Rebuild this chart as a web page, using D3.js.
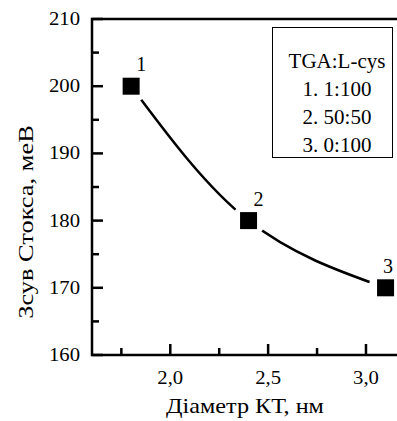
<!DOCTYPE html>
<html>
<head>
<meta charset="utf-8">
<script src="https://cdn.jsdelivr.net/npm/d3@7"></script>
<style>
  body { margin: 0; background: #fff; }
</style>
</head>
<body>
<div id="chart"></div>
<script>
// data
const diameters = [1.8, 2.4, 3.1];          // Діаметр КТ, нм
const stokesShift = [200, 180, 170];       // Зсув Стокса, меВ
const pointLabels = ["1", "2", "3"];
const legendLines = ["TGA:L-cys", "1. 1:100", "2. 50:50", "3. 0:100"];
const xTicks = [2.0, 2.5, 3.0];
const xMinorTicks = [1.75, 2.25, 2.75];
const yTicks = [160, 170, 180, 190, 200, 210];
const yMinorTicks = [165, 175, 185, 195, 205];

const width = 397, height = 421;
const margin = { top: 19, left: 92, bottom: 66 };
const serif = "'Liberation Serif', 'Times New Roman', serif";

const svg = d3.select("#chart")
    .append("svg")
    .attr("width", width)
    .attr("height", height)
    .style("font-family", serif);

const x = d3.scaleLinear()
    .domain([1.6, 3.2])
    .range([margin.left, margin.left + 1.6 * 195.7]);

const y = d3.scaleLinear()
    .domain([160, 210])
    .range([height - margin.bottom, margin.top]);

const x0 = x.range()[0], yBottom = y(160), yTop = y(210);

// frame: left, bottom, top (right side cut off)
svg.append("path")
    .attr("d", `M${width + 5},${yTop}H${x0}V${yBottom}H${width + 5}`)
    .attr("fill", "none")
    .attr("stroke", "#000")
    .attr("stroke-width", 2.5);

// y ticks (inward)
svg.selectAll(".ytick")
    .data(yTicks)
    .enter()
    .append("line")
    .attr("x1", x0).attr("x2", x0 + 11)
    .attr("y1", d => y(d)).attr("y2", d => y(d))
    .attr("stroke", "#000").attr("stroke-width", 2.5);

svg.selectAll(".yminor")
    .data(yMinorTicks)
    .enter()
    .append("line")
    .attr("x1", x0).attr("x2", x0 + 7)
    .attr("y1", d => y(d)).attr("y2", d => y(d))
    .attr("stroke", "#000").attr("stroke-width", 2.5);

svg.selectAll(".ylabel")
    .data(yTicks)
    .enter()
    .append("text")
    .attr("transform", d => `translate(80,${y(d) + 6}) scale(1.15,1)`)
    .attr("text-anchor", "end")
    .style("font-size", "18px")
    .text(d => d);

// x ticks (inward)
svg.selectAll(".xtick")
    .data(xTicks)
    .enter()
    .append("line")
    .attr("x1", d => x(d)).attr("x2", d => x(d))
    .attr("y1", yBottom).attr("y2", yBottom - 11)
    .attr("stroke", "#000").attr("stroke-width", 2.5);

svg.selectAll(".xminor")
    .data(xMinorTicks)
    .enter()
    .append("line")
    .attr("x1", d => x(d)).attr("x2", d => x(d))
    .attr("y1", yBottom).attr("y2", yBottom - 7)
    .attr("stroke", "#000").attr("stroke-width", 2.5);

svg.selectAll(".xlabel")
    .data(xTicks)
    .enter()
    .append("text")
    .attr("transform", d => `translate(${x(d)},${yBottom + 29}) scale(1.15,1)`)
    .attr("text-anchor", "middle")
    .style("font-size", "18px")
    .text(d => d3.format(".1f")(d).replace(".", ","));

// axis titles
svg.append("text")
    .attr("transform", `translate(245,413) scale(1.1,1)`)
    .attr("text-anchor", "middle")
    .style("font-size", "22px")
    .text("Діаметр КТ, нм");

svg.append("text")
    .attr("transform", `translate(33,222) rotate(-90) scale(1.2,1)`)
    .attr("text-anchor", "middle")
    .style("font-size", "22px")
    .text("Зсув Стокса, меВ");

// smooth curve through the points, broken around the markers
const pts = diameters.map((d, i) => [x(d), y(stokesShift[i])]);

const mask = svg.append("defs").append("mask").attr("id", "gap");
mask.append("rect").attr("width", width).attr("height", height).attr("fill", "#fff");
mask.selectAll("circle")
    .data(pts)
    .enter()
    .append("circle")
    .attr("cx", d => d[0]).attr("cy", d => d[1])
    .attr("r", 17)
    .attr("fill", "#000");

svg.append("path")
    .datum(pts)
    .attr("d", d3.line().curve(d3.curveNatural))
    .attr("fill", "none")
    .attr("stroke", "#000")
    .attr("stroke-width", 2.5)
    .attr("mask", "url(#gap)");

// square markers
const size = 17;
svg.selectAll(".marker")
    .data(pts)
    .enter()
    .append("rect")
    .attr("x", d => d[0] - size / 2)
    .attr("y", d => d[1] - size / 2)
    .attr("width", size)
    .attr("height", size)
    .attr("fill", "#000");

svg.selectAll(".plabel")
    .data(pts)
    .enter()
    .append("text")
    .attr("x", d => Math.min(d[0] + 10, width - 9))
    .attr("y", d => d[1] - 15)
    .attr("text-anchor", "middle")
    .style("font-size", "20px")
    .text((d, i) => pointLabels[i]);

// legend box
const legend = svg.append("g");
legend.append("rect")
    .attr("x", 272.5).attr("y", 27.5)
    .attr("width", 120).attr("height", 130)
    .attr("fill", "#fff")
    .attr("stroke", "#000")
    .attr("stroke-width", 1);

legend.selectAll("text")
    .data(legendLines)
    .enter()
    .append("text")
    .attr("x", 337)
    .attr("y", (d, i) => 68 + i * 28)
    .attr("text-anchor", "middle")
    .style("font-size", "21px")
    .text(d => d);
</script>
</body>
</html>
